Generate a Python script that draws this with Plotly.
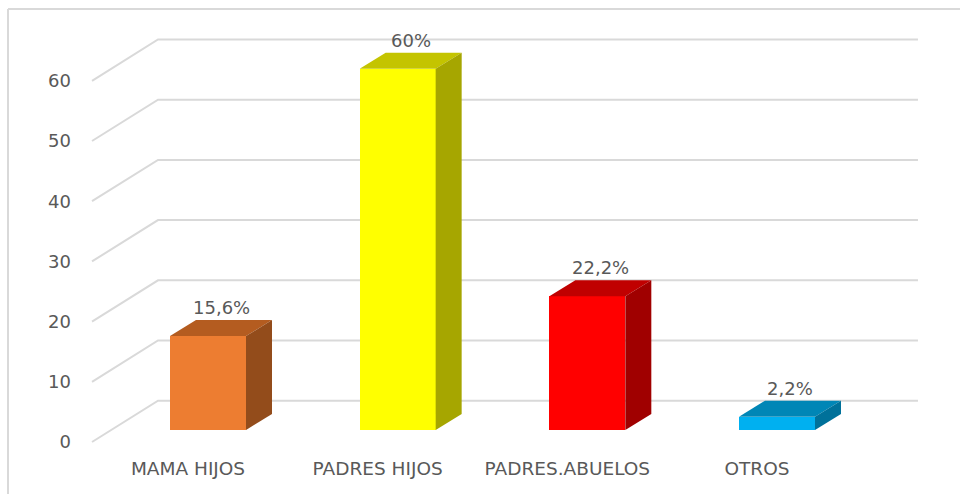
import plotly.graph_objects as go

# ---- data ----
categories = ["MAMA HIJOS", "PADRES HIJOS", "PADRES.ABUELOS", "OTROS"]
values = [15.6, 60, 22.2, 2.2]
value_labels = ["15,6%", "60%", "22,2%", "2,2%"]
y_ticks = [0, 10, 20, 30, 40, 50, 60]
y_tick_labels = ["0", "10", "20", "30", "40", "50", "60"]

# ---- styles ----
front_colors = ["#ED7D31", "#FFFF00", "#FF0000", "#00B0F0"]
top_colors = ["#B45C20", "#C4C400", "#C00000", "#0086B6"]
side_colors = ["#934C1B", "#A6A600", "#A00000", "#00719A"]
TEXT = "#595959"
GRID = "#D9D9D9"
FONT = "DejaVu Sans"

# pseudo-3D geometry, expressed in axis units
PX_X = 189.67          # pixels per category step
PX_Y = 6.02            # pixels per value unit
BAR_W = 76 / PX_X
DEPTH_X = 26 / PX_X
DEPTH_Y = 16 / PX_Y
FLOOR_FRONT_DY = 12 / PX_Y     # front edge of floor below bar base
WALL_DY = 29.3 / PX_Y          # back wall above bar base
WALL_X0 = -50 / PX_X           # back wall left edge (rel. first category)
FRONT_X0 = -116 / PX_X         # front edge of floor
WALL_X1 = 710 / PX_X           # back wall right edge
LABEL_DX = -20 / PX_X

idx = list(range(len(categories)))

fig = go.Figure()

# front faces of the bars
fig.add_trace(go.Bar(
    x=idx, y=values, width=BAR_W,
    marker=dict(color=front_colors, line=dict(width=0)),
    hoverinfo="skip", showlegend=False,
))

# top and side faces
for i, v in enumerate(values):
    xl, xr = i - BAR_W / 2, i + BAR_W / 2
    fig.add_trace(go.Scatter(
        x=[xl, xr, xr + DEPTH_X, xl + DEPTH_X, xl],
        y=[v, v, v + DEPTH_Y, v + DEPTH_Y, v],
        fill="toself", fillcolor=top_colors[i], mode="lines",
        line=dict(width=0, color=top_colors[i]),
        hoverinfo="skip", showlegend=False,
    ))
    fig.add_trace(go.Scatter(
        x=[xr, xr + DEPTH_X, xr + DEPTH_X, xr, xr],
        y=[0, DEPTH_Y, v + DEPTH_Y, v, 0],
        fill="toself", fillcolor=side_colors[i], mode="lines",
        line=dict(width=0, color=side_colors[i]),
        hoverinfo="skip", showlegend=False,
    ))

# gridlines: floor diagonal + back wall
shapes = []
for t in y_ticks:
    y_front = t - FLOOR_FRONT_DY
    y_back = t + WALL_DY
    shapes.append(dict(
        type="path", xref="x", yref="y", layer="below",
        path=f"M {FRONT_X0},{y_front} L {WALL_X0},{y_back} L {WALL_X1},{y_back}",
        line=dict(color=GRID, width=2),
    ))

# figure / plot-area geometry
W, H = 960, 494
ML, PW, PH = 76, 884, 455
MB = H - PH

# outer border of chart area (left and top edges visible)
bx0 = (8 - ML) / PW
by1 = (PH - 9) / PH
shapes.append(dict(
    type="line", xref="paper", yref="paper", layer="below",
    x0=bx0, x1=bx0, y0=by1, y1=(PH - H - 4) / PH,
    line=dict(color=GRID, width=2),
))
shapes.append(dict(
    type="line", xref="paper", yref="paper", layer="below",
    x0=bx0, x1=(W + 4 - ML) / PW, y0=by1, y1=by1,
    line=dict(color=GRID, width=2),
))

# value labels
annotations = []
for i, v in enumerate(values):
    annotations.append(dict(
        x=i + DEPTH_X / 2, y=v + DEPTH_Y, xref="x", yref="y",
        text=value_labels[i], showarrow=False, yanchor="bottom",
        font=dict(family=FONT, size=18, color=TEXT),
    ))

fig.update_layout(
    width=W, height=H, autosize=False,
    margin=dict(l=ML, r=W - ML - PW, t=0, b=MB),
    paper_bgcolor="white", plot_bgcolor="rgba(0,0,0,0)",
    showlegend=False, bargap=0, hovermode=False,
    shapes=shapes, annotations=annotations,
    font=dict(family=FONT, size=18, color=TEXT),
    xaxis=dict(
        range=[-0.696, 3.965], showgrid=False, zeroline=False, showline=False,
        tickmode="array", tickvals=[i + LABEL_DX for i in idx], ticktext=categories,
        ticks="", tickfont=dict(family=FONT, size=18.5, color=TEXT),
    ),
    yaxis=dict(
        range=[-4.153, 71.43], showgrid=False, zeroline=False, showline=False,
        tickmode="array", tickvals=[t - FLOOR_FRONT_DY for t in y_ticks],
        ticktext=y_tick_labels, ticks="", ticklabelstandoff=4,
        tickfont=dict(family=FONT, size=18, color=TEXT),
    ),
)

fig.write_html(
    "out.html",
    config={"displayModeBar": False},
    post_script="document.body.style.margin='0';document.body.style.overflow='hidden';",
)
